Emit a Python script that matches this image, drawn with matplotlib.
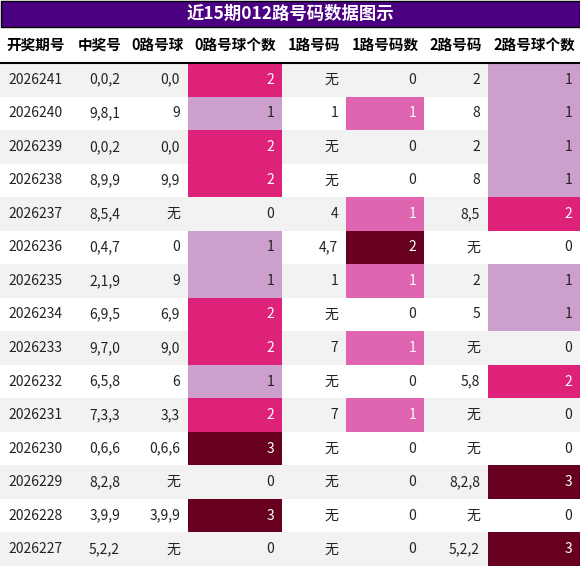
import matplotlib
matplotlib.use("Agg")
import matplotlib.pyplot as plt
from matplotlib.patches import Rectangle

plt.rcParams['font.family'] = ['Noto Sans CJK SC', 'DejaVu Sans']

TITLE = "近15期012路号码数据图示"
headers = ["开奖期号", "中奖号", "0路号球", "0路号球个数", "1路号码", "1路号码数", "2路号码", "2路号球个数"]

issues = ["2026241", "2026240", "2026239", "2026238", "2026237", "2026236", "2026235", "2026234",
          "2026233", "2026232", "2026231", "2026230", "2026229", "2026228", "2026227"]
numbers = ["0,0,2", "9,8,1", "0,0,2", "8,9,9", "8,5,4", "0,4,7", "2,1,9", "6,9,5",
           "9,7,0", "6,5,8", "7,3,3", "0,6,6", "8,2,8", "3,9,9", "5,2,2"]
road0 = ["0,0", "9", "0,0", "9,9", "无", "0", "9", "6,9", "9,0", "6", "3,3", "0,6,6", "无", "3,9,9", "无"]
road0_cnt = [2, 1, 2, 2, 0, 1, 1, 2, 2, 1, 2, 3, 0, 3, 0]
road1 = ["无", "1", "无", "无", "4", "4,7", "1", "无", "7", "无", "7", "无", "无", "无", "无"]
road1_cnt = [0, 1, 0, 0, 1, 2, 1, 0, 1, 0, 1, 0, 0, 0, 0]
road2 = ["2", "8", "2", "8", "8,5", "无", "2", "5", "无", "5,8", "无", "无", "8,2,8", "无", "5,2,2"]
road2_cnt = [1, 1, 1, 1, 2, 0, 1, 1, 0, 2, 0, 0, 3, 0, 3]

# pixel layout
W, H = 580, 566
col_x = [0, 72, 128, 188, 282, 346, 424, 488, 580]
title_h = 27
head_h = 36
row_h = (H - title_h - head_h) / len(issues)

cnt_colors = {1: "#cc9fcc", 2: "#df2279", 3: "#67001f"}
road1_color = {1: "#df65b0", 2: "#67001f"}

fig = plt.figure(figsize=(W / 100, H / 100), dpi=100)
ax = fig.add_axes([0, 0, 1, 1])
ax.set_xlim(0, W)
ax.set_ylim(H, 0)
ax.axis("off")

ax.add_patch(Rectangle((0.5, 0.5), W - 1, title_h - 1, facecolor="#4b0082", edgecolor="black", lw=1))
ax.text(W / 2, title_h / 2, TITLE, color="white", fontsize=12.5, fontweight="bold", ha="center", va="center")

for j, h in enumerate(headers):
    ax.text((col_x[j] + col_x[j + 1]) / 2, title_h + head_h / 2, h, fontsize=10.5, fontweight="bold",
            ha="center", va="center")
ax.plot([0, W], [title_h + head_h, title_h + head_h], color="black", lw=1.5)

for i in range(len(issues)):
    y0 = title_h + head_h + i * row_h
    yc = y0 + row_h / 2
    if i % 2 == 0:
        ax.add_patch(Rectangle((0, y0), W, row_h, facecolor="#f2f2f2", edgecolor="none"))
    row = [issues[i], numbers[i], road0[i], road0_cnt[i], road1[i], road1_cnt[i], road2[i], road2_cnt[i]]
    for j, val in enumerate(row):
        fc = None
        tc = "#222222"
        if j in (3, 7) and val in cnt_colors:
            fc = cnt_colors[val]
            tc = "#222222" if val == 1 else "white"
        elif j == 5 and val in road1_color:
            fc = road1_color[val]
            tc = "white"
        if fc:
            ax.add_patch(Rectangle((col_x[j], y0), col_x[j + 1] - col_x[j], row_h, facecolor=fc, edgecolor="none"))
        if j == 0:
            ax.text(col_x[j] + 8, yc, str(val), fontsize=10, ha="left", va="center", color=tc)
        else:
            ax.text(col_x[j + 1] - 8, yc, str(val), fontsize=10, ha="right", va="center", color=tc)

fig.savefig("out.png", dpi=100)
